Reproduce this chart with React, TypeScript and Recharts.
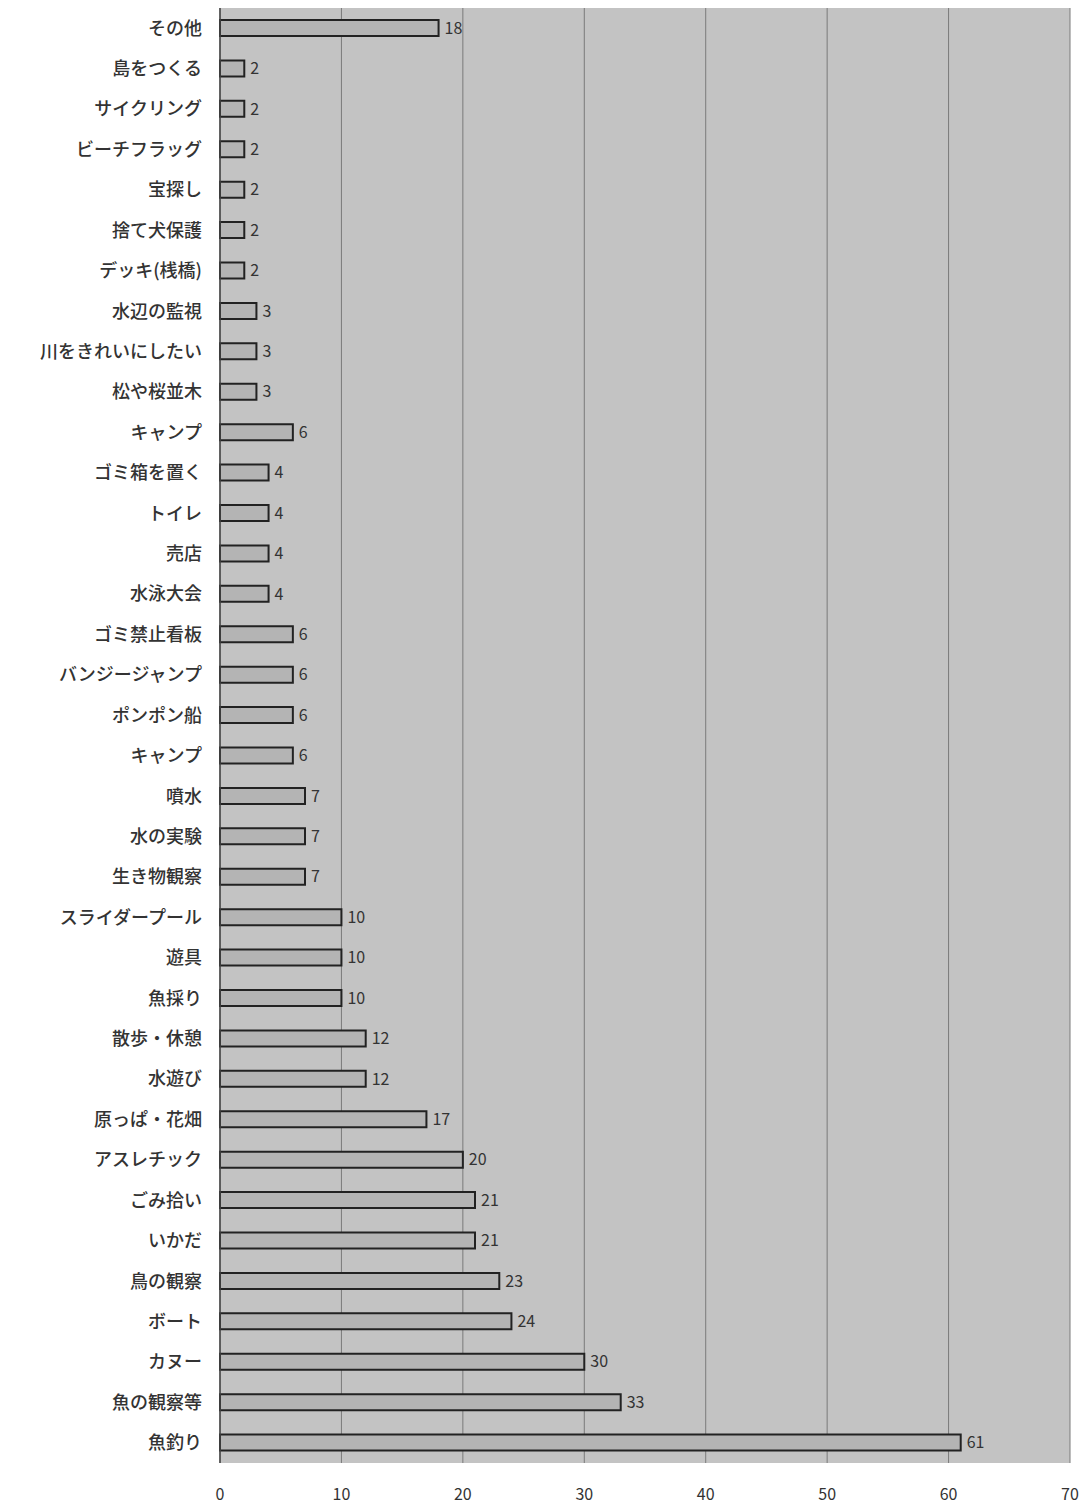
import { BarChart, Bar, XAxis, YAxis, CartesianGrid, LabelList } from 'recharts';

const categories = [
  'その他', '島をつくる', 'サイクリング', 'ビーチフラッグ', '宝探し', '捨て犬保護',
  'デッキ(桟橋)', '水辺の監視', '川をきれいにしたい', '松や桜並木', 'キャンプ',
  'ゴミ箱を置く', 'トイレ', '売店', '水泳大会', 'ゴミ禁止看板', 'バンジージャンプ',
  'ポンポン船', 'キャンプ', '噴水', '水の実験', '生き物観察', 'スライダープール',
  '遊具', '魚採り', '散歩・休憩', '水遊び', '原っぱ・花畑', 'アスレチック',
  'ごみ拾い', 'いかだ', '鳥の観察', 'ボート', 'カヌー', '魚の観察等', '魚釣り',
];

const counts = [
  18, 2, 2, 2, 2, 2,
  2, 3, 3, 3, 6,
  4, 4, 4, 4, 6, 6,
  6, 6, 7, 7, 7, 10,
  10, 10, 12, 12, 17, 20,
  21, 21, 23, 24, 30, 33, 61,
];

const xTicks = [0, 10, 20, 30, 40, 50, 60, 70];

// index key so the two キャンプ rows stay separate
const data = categories.map((name, i) => ({ id: i, name, value: counts[i] }));

const font = '"Noto Sans CJK JP", "Noto Sans", sans-serif';

export default function App() {
  return (
    <div style={{ position: 'absolute', left: 0, top: 0, background: '#fff' }}>
      <BarChart
        width={1085}
        height={1504}
        data={data}
        layout="vertical"
        margin={{ top: 8, right: 15, left: 0, bottom: 0 }}
      >
        <CartesianGrid horizontal={false} stroke="#7a7a7a" fill="#c3c3c3" />
        <XAxis
          type="number"
          domain={[0, 70]}
          ticks={xTicks}
          axisLine={false}
          tickLine={false}
          tickMargin={20}
          height={41}
          tick={{ fontSize: 16, fill: '#333', fontFamily: font }}
        />
        <YAxis
          type="category"
          dataKey="id"
          width={220}
          tickFormatter={(i: number) => categories[i]}
          axisLine={{ stroke: '#444', strokeWidth: 1.5 }}
          tickLine={false}
          tickMargin={12}
          interval={0}
          tick={{ fontSize: 18, fill: '#333', fontFamily: font, fontWeight: 500 }}
        />
        <Bar
          dataKey="value"
          fill="#b4b4b4"
          stroke="#222"
          strokeWidth={2}
          barSize={16}
          isAnimationActive={false}
        >
          <LabelList
            dataKey="value"
            position="right"
            offset={6}
            style={{ fontSize: 16, fill: '#333', fontFamily: font }}
          />
        </Bar>
      </BarChart>
    </div>
  );
}
